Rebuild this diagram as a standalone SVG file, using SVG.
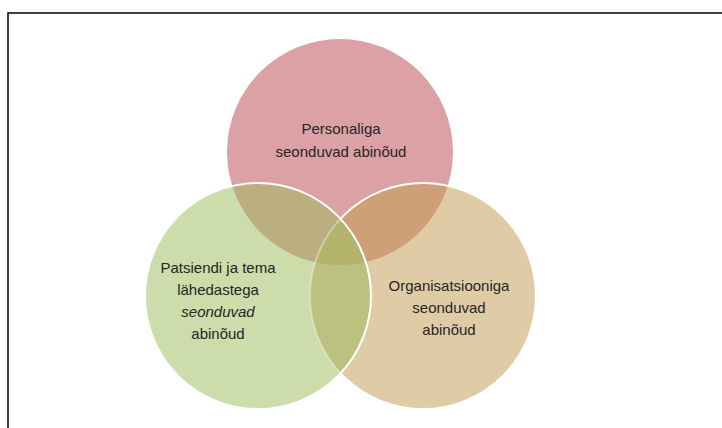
<svg xmlns="http://www.w3.org/2000/svg" width="722" height="428" viewBox="0 0 722 428">
<style>
.t{font-family:"Liberation Sans",Arial,sans-serif;font-size:15px;fill:#262626;text-anchor:middle}
.i{font-style:italic}
.edge{fill:none;stroke:#ffffff;stroke-width:2}
</style>
<defs>
<clipPath id="cP"><circle cx="340" cy="152" r="113"/></clipPath>
<clipPath id="cG"><circle cx="258" cy="296" r="113"/></clipPath>
<clipPath id="cO"><circle cx="423" cy="296" r="113"/></clipPath>
<mask id="notG"><rect width="722" height="428" fill="#fff"/><circle cx="258" cy="296" r="113" fill="#000"/></mask>
</defs>
<rect width="722" height="428" fill="#ffffff"/>
<path d="M8,428 V13 H722" fill="none" stroke="#000" stroke-width="1.5"/>
<g id="personal">
<circle cx="340" cy="152" r="113" fill="#DBA1A5"/>
</g>
<g id="organisatsioon">
<circle cx="423" cy="296" r="113" fill="#DFCCA7"/>
<g clip-path="url(#cP)"><circle cx="423" cy="296" r="113" fill="#CF9F78"/></g>
</g>
<g id="patsient">
<circle cx="258" cy="296" r="113" fill="#CCDCAA"/>
<g clip-path="url(#cP)"><circle cx="258" cy="296" r="113" fill="#BBAF80"/></g>
<g clip-path="url(#cO)"><circle cx="258" cy="296" r="113" fill="#BBC280"/>
<g clip-path="url(#cP)"><circle cx="258" cy="296" r="113" fill="#B4B36C"/></g></g>
</g>
<g id="edges">
<circle cx="423" cy="296" r="113" class="edge" mask="url(#notG)"/>
<g clip-path="url(#cG)"><circle cx="423" cy="296" r="113" class="edge" opacity="0.35"/></g>
<circle cx="258" cy="296" r="113" class="edge"/>
</g>
<g id="labels">
<text class="t" x="341" y="134">Personaliga</text>
<text class="t" x="341" y="157">seonduvad abinõud</text>
<text class="t" x="218" y="273">Patsiendi ja tema</text>
<text class="t" x="218" y="295">lähedastega</text>
<text class="t i" x="218" y="317">seonduvad</text>
<text class="t" x="218" y="339">abinõud</text>
<text class="t" x="449" y="291">Organisatsiooniga</text>
<text class="t" x="449" y="313">seonduvad</text>
<text class="t" x="449" y="335">abinõud</text>
</g>
</svg>
